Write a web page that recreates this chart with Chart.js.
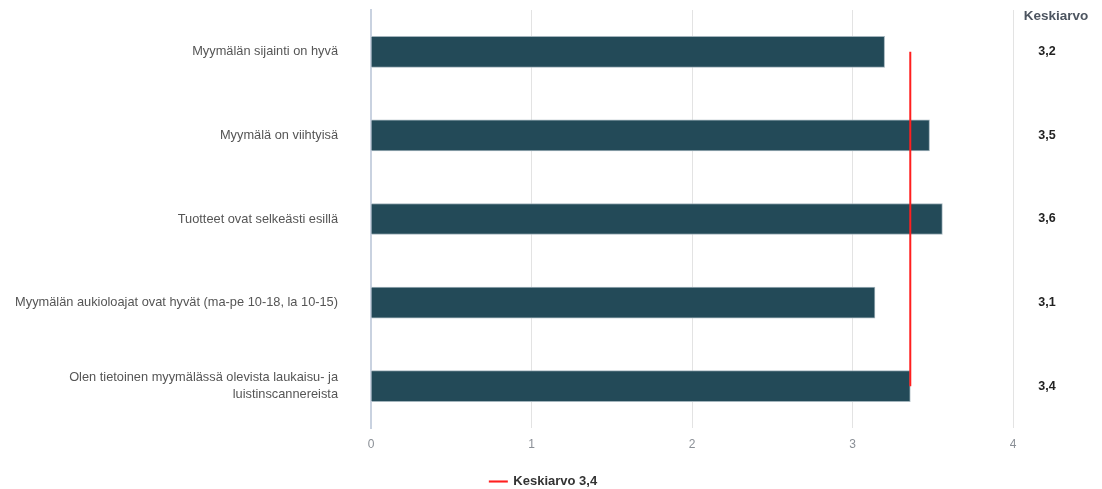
<!DOCTYPE html>
<html>
<head>
<meta charset="utf-8">
<script src="https://cdn.jsdelivr.net/npm/chart.js@4/dist/chart.umd.min.js"></script>
<style>
  html, body { margin: 0; padding: 0; background: #fff; }
  #wrap { width: 1102px; height: 489px; position: relative; }
</style>
</head>
<body>
<div id="wrap"><canvas id="chart"></canvas></div>
<script>
// statements (categories)
const categories = [
  'Myymälän sijainti on hyvä',
  'Myymälä on viihtyisä',
  'Tuotteet ovat selkeästi esillä',
  'Myymälän aukioloajat ovat hyvät (ma-pe 10-18, la 10-15)',
  ['Olen tietoinen myymälässä olevista laukaisu- ja', 'luistinscannereista']
];
// mean per statement
const values = [3.2, 3.48, 3.56, 3.14, 3.36];
// overall mean line
const meanLine = [3.36, 3.36, 3.36, 3.36, 3.36];
const meanLabel = 'Keskiarvo 3,4';
const columnTitle = 'Keskiarvo';
const xTicks = [0, 1, 2, 3, 4];

const FONT = '"Liberation Sans", Arial, sans-serif';
const fmt = v => v.toFixed(1).replace('.', ',');

// draws the "Keskiarvo" column at right side
const meanColumn = {
  id: 'meanColumn',
  afterDraw(chart) {
    const ctx = chart.ctx;
    const yScale = chart.scales.y;
    ctx.save();
    ctx.textAlign = 'center';
    ctx.textBaseline = 'middle';
    ctx.font = 'bold 13.5px ' + FONT;
    ctx.fillStyle = '#4d5560';
    ctx.fillText(columnTitle, 1056, 16);
    ctx.fillStyle = '#222';
    ctx.font = 'bold 12.5px ' + FONT;
    values.forEach((v, i) => {
      ctx.fillText(fmt(v), 1047, yScale.getPixelForValue(i));
    });
    ctx.restore();
  }
};

const ctx = document.getElementById('chart').getContext('2d');
new Chart(ctx, {
  data: {
    labels: categories,
    datasets: [
      {
        type: 'line',
        label: meanLabel,
        data: meanLine,
        borderColor: '#ff1f1f',
        backgroundColor: '#ff1f1f',
        borderWidth: 2,
        pointRadius: 0,
        order: 0
      },
      {
        type: 'bar',
        label: 'Keskiarvot',
        data: values,
        backgroundColor: '#234a58',
        borderColor: '#a3b4bc',
        borderWidth: { top: 1, right: 1, bottom: 1, left: 0 },
        borderSkipped: false,
        barThickness: 31,
        order: 1
      }
    ]
  },
  options: {
    indexAxis: 'y',
    responsive: true,
    maintainAspectRatio: false,
    animation: false,
    layout: { padding: { top: 10, right: 15, bottom: -9, left: 0 } },
    scales: {
      x: {
        min: 0,
        max: 4,
        afterBuildTicks: s => { s.ticks = xTicks.map(v => ({ value: v })); },
        afterFit: s => { s.height = 45; },
        grid: { color: '#e3e3e3', drawTicks: false, lineWidth: 1 },
        border: { display: false },
        ticks: {
          color: '#8a8f96',
          padding: 9,
          font: { family: FONT, size: 12 }
        }
      },
      y: {
        afterFit: s => { s.width = 371; s.paddingTop = 0; s.paddingBottom = 0; },
        grid: { display: false, drawTicks: false },
        border: { display: true, color: '#c9d2e0', width: 2 },
        ticks: {
          color: '#555',
          padding: 33,
          font: { family: FONT, size: 12.8, lineHeight: 1.35 }
        }
      },
      // empty right axis reserving room for the mean column
      yRight: {
        type: 'category',
        position: 'right',
        afterFit: s => { s.width = 74; s.paddingTop = 0; s.paddingBottom = 0; },
        grid: { display: false, drawTicks: false },
        border: { display: false },
        ticks: { display: false }
      }
    },
    plugins: {
      legend: {
        position: 'bottom',
        labels: {
          filter: item => item.text === meanLabel,
          boxWidth: 17,
          boxHeight: 0.1,
          color: '#333',
          padding: 2,
          font: { family: FONT, size: 13, weight: 'bold' }
        }
      },
      tooltip: { enabled: false }
    }
  },
  plugins: [meanColumn]
});
</script>
</body>
</html>
